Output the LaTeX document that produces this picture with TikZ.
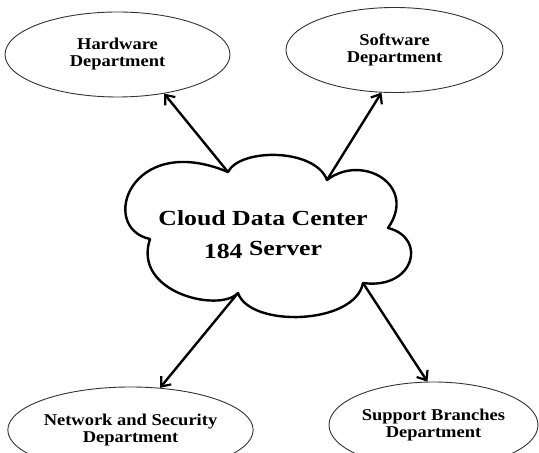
\documentclass[tikz,border=0pt]{standalone}
\usepackage{fontspec}
\setmainfont{Liberation Serif}
\newfontfamily\deptfont{Liberation Serif}[FakeStretch=1.12]
\newfontfamily\cloudfont{Liberation Serif}[FakeStretch=1.2]
\usetikzlibrary{shapes.geometric,arrows.meta}
\tikzset{
  dept/.style={ellipse, draw=black!80, line width=0.9pt, align=center,
    font=\deptfont\bfseries\fontsize{16.5}{17}\selectfont, inner sep=0pt},
  link/.style={line width=2.4pt, -{Straight Barb[length=8pt,width=13pt,line width=2.2pt]}},
  cloudline/.style={line width=2.4pt, line join=round},
}
\begin{document}
\begin{tikzpicture}[x=1pt,y=1pt]
\useasboundingbox (0,0) rectangle (539,453);
\clip (0,0) rectangle (539,453);
\fill[white] (0,0) rectangle (539,453);
\node[dept, minimum width=225pt, minimum height=85pt] (hw) at (117.5,398.5) {Hardware\\Department};
\node[dept, minimum width=217pt, minimum height=85pt] (sw) at (394.5,403) {Software\\Department};
\node[dept, minimum width=213pt, minimum height=86pt] (net) at (130.5,23) {Network and Security\\Department};
\node[dept, minimum width=209pt, minimum height=86pt] (sup) at (433.5,28) {Support Branches\\Department};
% cloud outline
\coordinate (v1) at (228,281);
\coordinate (v2) at (327,273);
\coordinate (v3) at (388,225);
\coordinate (v4) at (363,170);
\coordinate (v5) at (238,160);
\coordinate (v6) at (150,214);
\draw[cloudline] (v1) .. controls (240,305) and (315,305) .. (v2)
  .. controls (362,300) and (418,268) .. (v3)
  .. controls (428,215) and (414,163) .. (v4)
  .. controls (355,128) and (250,125) .. (v5)
  .. controls (220,140) and (132,160) .. (v6)
  .. controls (98,225) and (130,322) .. (v1) -- cycle;
\node[align=center, font=\cloudfont\bfseries\fontsize{21.5}{30}\selectfont] (cloud) at (263,218)
  {Cloud Data Center\\\raisebox{-3pt}{184} Server};
\draw[link] (v1) -- (hw.-40);
\draw[link] (v2) -- (sw.-107);
\draw[link] (v5) -- (net.55);
\draw[link] (v4) -- (sup.98);
\end{tikzpicture}
\end{document}
